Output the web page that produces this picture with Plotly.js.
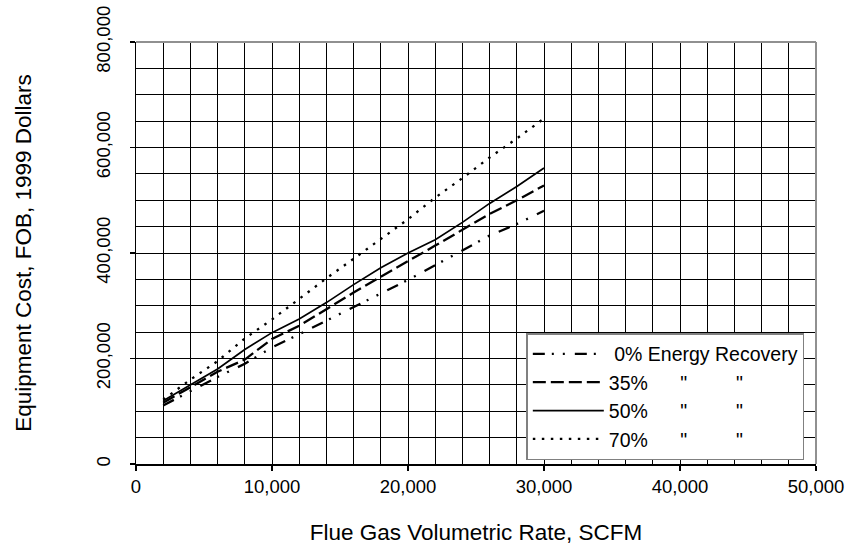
<!DOCTYPE html>
<html>
<head>
<meta charset="utf-8">
<script src="https://cdn.plot.ly/plotly-3.0.1.min.js"></script>
<style>html,body{margin:0;padding:0;background:#fff}#chart{width:851px;height:550px}</style>
</head>
<body>
<div id="chart"></div>
<script>
var flowRate = [2000,4000,6000,8000,10000,12000,14000,16000,18000,20000,22000,24000,26000,28000,30000];
var cost0  = [111000,138000,165000,190000,221000,246000,272000,297000,324000,349000,377000,405000,433000,455000,480000];
var cost35 = [116000,146000,175000,198000,237000,262000,294000,325000,355000,384000,414000,444000,474000,500000,528000];
var cost50 = [120000,150000,180000,217000,249000,275000,306000,340000,372000,400000,425000,458000,494000,526000,561000];
var cost70 = [122000,160000,195000,238000,274000,313000,352000,389000,427000,464000,505000,542000,581000,617000,655000];
var seriesNames = [
  '\u00a00% Energy Recovery',
  '35%\u00a0\u00a0\u00a0\u00a0\u00a0\u00a0"\u00a0\u00a0\u00a0\u00a0\u00a0\u00a0\u00a0\u00a0\u00a0"',
  '50%\u00a0\u00a0\u00a0\u00a0\u00a0\u00a0"\u00a0\u00a0\u00a0\u00a0\u00a0\u00a0\u00a0\u00a0\u00a0"',
  '70%\u00a0\u00a0\u00a0\u00a0\u00a0\u00a0"\u00a0\u00a0\u00a0\u00a0\u00a0\u00a0\u00a0\u00a0\u00a0"'
];

var FONT = 'Liberation Sans, Arial, sans-serif';
var traces = [
  {x: flowRate, y: cost0,  name: seriesNames[0], mode: 'lines', line: {color: '#000', width: 2.3, dash: '12px,7px,2px,9px,2px,10px'}},
  {x: flowRate, y: cost35, name: seriesNames[1], mode: 'lines', line: {color: '#000', width: 2.3, dash: '13px,5px'}},
  {x: flowRate, y: cost50, name: seriesNames[2], mode: 'lines', line: {color: '#000', width: 1.7}},
  {x: flowRate, y: cost70, name: seriesNames[3], mode: 'lines', line: {color: '#000', width: 2.3, dash: '2.5px,6.5px'}}
];

var layout = {
  width: 851, height: 550,
  margin: {l: 136, r: 35, t: 42, b: 86},
  paper_bgcolor: '#fff', plot_bgcolor: '#fff',
  font: {family: FONT, color: '#000', size: 18.5},
  showlegend: true,
  legend: {
    x: 0.574, y: 0.31, xanchor: 'left', yanchor: 'top',
    bgcolor: '#fff', bordercolor: '#808080', borderwidth: 1.5,
    font: {family: FONT, size: 19.5, color: '#000'},
    itemwidth: 71, tracegroupgap: 0
  },
  xaxis: {
    range: [0, 50000], dtick: 10000, tick0: 0, tickformat: ',d',
    showgrid: true, gridcolor: '#000', gridwidth: 1,
    minor: {dtick: 2000, showgrid: true, gridcolor: '#000', gridwidth: 1},
    showline: true, linecolor: '#000', linewidth: 1.5,
    ticks: 'outside', ticklen: 5, tickcolor: '#000', tickwidth: 1.5,
    zeroline: false, tickfont: {family: FONT, size: 18.5, color: '#000'},
    title: {text: 'Flue Gas Volumetric Rate, SCFM', font: {family: FONT, size: 22.5, color: '#000'}, standoff: 28},
    fixedrange: true
  },
  yaxis: {
    range: [0, 800000], dtick: 200000, tick0: 0, tickformat: ',d',
    tickangle: -90, ticklabelstandoff: 12,
    showgrid: true, gridcolor: '#000', gridwidth: 1,
    minor: {dtick: 50000, showgrid: true, gridcolor: '#000', gridwidth: 1},
    showline: true, linecolor: '#000', linewidth: 1.5,
    ticks: 'outside', ticklen: 5, tickcolor: '#000', tickwidth: 1.5,
    zeroline: false, tickfont: {family: FONT, size: 18.5, color: '#000'},
    title: {text: 'Equipment Cost, FOB, 1999 Dollars', font: {family: FONT, size: 22.5, color: '#000'}, standoff: 55},
    fixedrange: true
  },
  shapes: [
    {type: 'line', xref: 'paper', yref: 'paper', x0: 0, x1: 1, y0: 1, y1: 1, line: {color: '#909090', width: 2}},
    {type: 'line', xref: 'paper', yref: 'paper', x0: 1, x1: 1, y0: 0, y1: 1, line: {color: '#909090', width: 2}}
  ]
};

Plotly.newPlot('chart', traces, layout, {displayModeBar: false, staticPlot: true});
</script>
</body>
</html>
